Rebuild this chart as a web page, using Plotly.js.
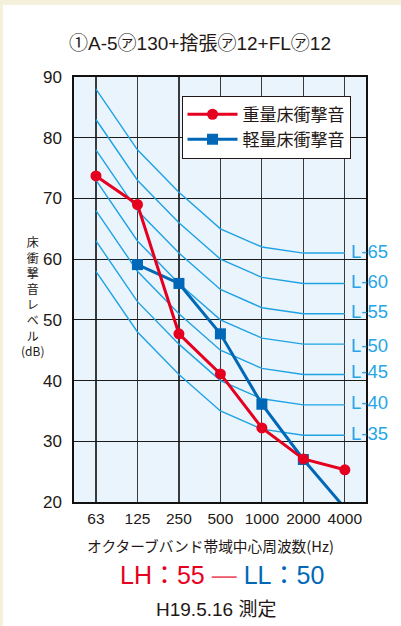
<!DOCTYPE html>
<html><head><meta charset="utf-8">
<script src="https://cdn.plot.ly/plotly-3.0.1.min.js"></script>
<style>
html,body{margin:0;padding:0;background:#f4f0dc;width:401px;height:626px;overflow:hidden;}
#chart{position:absolute;left:3px;top:5px;width:398px;height:621px;}
</style></head><body><div id="chart"></div>
<script>
// ---- data ----
const freqs = ['63', '125', '250', '500', '1000', '2000', '4000'];
const heavyImpact = [73.7, 69.0, 47.7, 41.1, 32.2, 27.1, 25.3];   // 重量床衝撃音
const lightImpact = [null, 59.1, 56.0, 47.7, 36.1, 27.0, 19.0];   // 軽量床衝撃音
const curveL65 = [88, 78, 71, 65, 62, 61, 61];
const curveL60 = [83, 73, 66, 60, 57, 56, 56];
const curveL55 = [78, 68, 61, 55, 52, 51, 51];
const curveL50 = [73, 63, 56, 50, 47, 46, 46];
const curveL45 = [68, 58, 51, 45, 42, 41, 41];
const curveL40 = [63, 53, 46, 40, 37, 36, 36];
const curveL35 = [58, 48, 41, 35, 32, 31, 31];
const curveNames = ['L-65', 'L-60', 'L-55', 'L-50', 'L-45', 'L-40', 'L-35'];
const yTicks = [20, 30, 40, 50, 60, 70, 80, 90];
const seriesNames = ['重量床衝撃音', '軽量床衝撃音'];
const titleText = '①A-5㋐130+捨張㋐12+FL㋐12';
const yTitleChars = ['床', '衝', '撃', '音', 'レ', 'ベ', 'ル'];
const yTitleUnit = '(dB)';
const xTitleText = 'オクターブバンド帯域中心周波数(Hz)';
const ratingLH = 'LH：55';
const ratingLL = 'LL：50';
const dateText = 'H19.5.16 測定';

// ---- styles ----
const FONT = 'Liberation Sans, Arial, "Noto Sans CJK JP", sans-serif';
const CJK = '"Noto Sans CJK JP", "Liberation Sans", sans-serif';
const INK = '#231815';
const RED = '#e60020';
const BLUE = '#0068b7';
const CYAN = '#1ea2e4';

// page-pixel helpers (plot area 74..366.5 x 77..502.3 in page px)
const px = v => (v - 74) / 292.5;
const py = v => 1 - (v - 77) / 425.3;

const curves = [curveL65, curveL60, curveL55, curveL50, curveL45, curveL40, curveL35];
const traces = curves.map((c, i) => ({
  x: freqs, y: c, type: 'scatter', mode: 'lines',
  line: {color: CYAN, width: 1.4}, showlegend: false, hoverinfo: 'skip', name: curveNames[i]
}));
traces.push({
  x: freqs, y: lightImpact, type: 'scatter', mode: 'lines+markers', name: seriesNames[1],
  legendrank: 2,
  line: {color: BLUE, width: 3}, marker: {symbol: 'square', size: 11, color: BLUE}
});
traces.push({
  x: freqs, y: heavyImpact, type: 'scatter', mode: 'lines+markers', name: seriesNames[0],
  legendrank: 1,
  line: {color: RED, width: 3}, marker: {symbol: 'circle', size: 11, color: RED}
});

const labelAdjust = {'L-50': -3, 'L-45': 1};
const lastIdx = freqs.length - 1;
const annotations = curves.map((c, i) => ({
  x: lastIdx, y: c[lastIdx], xref: 'x', yref: 'y', text: curveNames[i], showarrow: false,
  xanchor: 'left', yanchor: 'middle', xshift: 4, yshift: 2 + (labelAdjust[curveNames[i]] || 0),
  font: {family: FONT, size: 18.5, color: '#26a6e6'}
}));
annotations.push({
  x: px(32.5), y: py(296.2), xref: 'paper', yref: 'paper',
  text: yTitleChars.join('<br>') + '<br>' + yTitleUnit, showarrow: false,
  xanchor: 'center', yanchor: 'middle', align: 'center', font: {family: CJK, size: 12, color: INK}
});
annotations.push({
  x: px(211), y: py(546), xref: 'paper', yref: 'paper', text: xTitleText, showarrow: false,
  xanchor: 'center', yanchor: 'middle', font: {family: CJK, size: 14.7, color: INK}
});
annotations.push({
  x: px(222), y: py(575), xref: 'paper', yref: 'paper', showarrow: false,
  text: '<span style="color:' + RED + '">' + ratingLH + ' </span><span style="color:#ee5a6a">—</span><span style="color:' + BLUE + '"> ' + ratingLL + '</span>',
  xanchor: 'center', yanchor: 'middle', font: {family: FONT, size: 25, color: RED}
});
annotations.push({
  x: px(216.7), y: py(610), xref: 'paper', yref: 'paper', text: dateText, showarrow: false,
  xanchor: 'center', yanchor: 'middle', font: {family: FONT, size: 19, color: INK}
});

const layout = {
  width: 398, height: 621,
  margin: {l: 71, r: 34.5, t: 72, b: 123.7, pad: 0},
  paper_bgcolor: '#ffffff', plot_bgcolor: '#eaf4fc',
  font: {family: FONT, color: INK},
  title: {text: titleText, x: 0.495, xref: 'container', y: 1 - 38 / 621, yref: 'container',
          xanchor: 'center', yanchor: 'middle', font: {family: FONT, size: 19, color: INK}},
  xaxis: {type: 'category', range: [-0.53, 6.51], showgrid: true, gridcolor: '#3a3a3a', gridwidth: 1.2,
          showline: true, linecolor: '#111', linewidth: 1.6, mirror: true, ticks: '', zeroline: false,
          ticklabelstandoff: 2, tickfont: {family: FONT, size: 15.5, color: INK}, fixedrange: true},
  yaxis: {range: [20, 90], tickvals: yTicks, showgrid: true, gridcolor: '#1a1a1a', gridwidth: 1.2,
          showline: true, linecolor: '#111', linewidth: 1.6, mirror: true, ticks: '', zeroline: false,
          ticklabelstandoff: 7, tickfont: {family: FONT, size: 17, color: INK}, fixedrange: true},
  legend: {x: px(181.7), y: py(95.7), xanchor: 'left', yanchor: 'top', bgcolor: '#ffffff',
           bordercolor: INK, borderwidth: 1, font: {family: CJK, size: 17, color: INK},
           itemwidth: 50, tracegroupgap: 0},
  annotations: annotations
};

Plotly.newPlot('chart', traces, layout, {displayModeBar: false, staticPlot: true});
</script>
</body></html>
